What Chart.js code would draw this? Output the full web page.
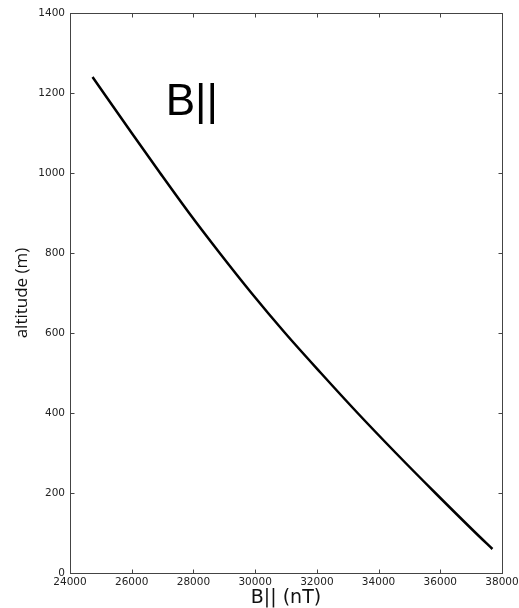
<!DOCTYPE html>
<html>
<head>
<meta charset="utf-8">
<script src="https://cdn.jsdelivr.net/npm/chart.js@4/dist/chart.umd.min.js"></script>
<style>
  html, body { margin: 0; padding: 0; background: #fff; }
  #wrap { width: 519px; height: 608px; position: relative; }
</style>
</head>
<body>
<div id="wrap"><canvas id="c" width="519" height="608"></canvas></div>
<script>
// Parallel field component (nT) against altitude (m)
const altitude = [1240, 1100, 1000, 900, 800, 700, 600, 500, 400, 300, 200, 100, 60];
const bParallel = [24730, 26000, 26920, 27860, 28850, 29880, 30970, 32130, 33320, 34560, 35840, 37150, 37690];

const xTicks = [24000, 26000, 28000, 30000, 32000, 34000, 36000, 38000];
const yTicks = [0, 200, 400, 600, 800, 1000, 1200, 1400];

const points = bParallel.map((b, i) => ({ x: b, y: altitude[i] }));

// Boxed frame with inward tick marks on all four sides, plus the in-plot label
const framePlugin = {
  id: 'frame',
  afterDraw(chart) {
    const { ctx, chartArea: a, scales } = chart;
    const L = Math.round(a.left) + 0.5, R = Math.round(a.right) + 0.5;
    const T = Math.round(a.top) + 0.5, B = Math.round(a.bottom) + 0.5;
    ctx.save();
    ctx.strokeStyle = '#444';
    ctx.lineWidth = 1;
    ctx.strokeRect(L, T, R - L, B - T);
    ctx.beginPath();
    const tl = 4;
    xTicks.forEach(v => {
      const px = Math.round(scales.x.getPixelForValue(v)) + 0.5;
      ctx.moveTo(px, B); ctx.lineTo(px, B - tl);
      ctx.moveTo(px, T); ctx.lineTo(px, T + tl);
    });
    yTicks.forEach(v => {
      const py = Math.round(scales.y.getPixelForValue(v)) + 0.5;
      ctx.moveTo(L, py); ctx.lineTo(L + tl, py);
      ctx.moveTo(R, py); ctx.lineTo(R - tl, py);
    });
    ctx.stroke();

    ctx.fillStyle = '#000';
    ctx.font = '44px "Liberation Sans", Arial, sans-serif';
    ctx.textAlign = 'left';
    ctx.textBaseline = 'alphabetic';
    ctx.fillText('B||', scales.x.getPixelForValue(27100), scales.y.getPixelForValue(1145));
    ctx.restore();
  }
};

new Chart(document.getElementById('c'), {
  type: 'scatter',
  data: {
    datasets: [{
      data: points,
      showLine: true,
      borderColor: '#000',
      borderWidth: 2.5,
      pointRadius: 0,
      cubicInterpolationMode: 'monotone',
      fill: false
    }]
  },
  options: {
    responsive: false,
    animation: false,
    events: [],
    layout: { padding: { top: 13, right: 17, left: 0, bottom: 0 } },
    plugins: { legend: { display: false }, tooltip: { enabled: false } },
    scales: {
      x: {
        type: 'linear',
        min: 24000, max: 38000,
        afterFit(s) { s.height = 35; s.paddingRight = 0; s.paddingLeft = 0; },
        afterBuildTicks(s) { s.ticks = xTicks.map(v => ({ value: v })); },
        border: { display: false },
        grid: { display: false, drawTicks: false },
        ticks: {
          padding: 3,
          maxRotation: 0,
          autoSkip: false,
          color: '#222',
          font: { family: '"DejaVu Sans", sans-serif', size: 10.5 },
          callback: v => String(v)
        },
        title: {
          display: true,
          text: 'B|| (nT)',
          color: '#111',
          font: { family: '"DejaVu Sans", sans-serif', size: 19, lineHeight: 1.0 },
          padding: { top: 0, bottom: 0 }
        }
      },
      y: {
        type: 'linear',
        min: 0, max: 1400,
        afterFit(s) { s.width = 70; },
        afterBuildTicks(s) { s.ticks = yTicks.map(v => ({ value: v })); },
        border: { display: false },
        grid: { display: false, drawTicks: false },
        ticks: {
          padding: 5,
          autoSkip: false,
          color: '#222',
          font: { family: '"DejaVu Sans", sans-serif', size: 10.5 },
          callback: v => String(v)
        },
        title: {
          display: true,
          text: 'altitude (m)',
          color: '#111',
          font: { family: '"Open Sans", sans-serif', size: 17, lineHeight: 1.2 },
          padding: { top: 12, bottom: 0 }
        }
      }
    }
  },
  plugins: [framePlugin]
});
</script>
</body>
</html>
